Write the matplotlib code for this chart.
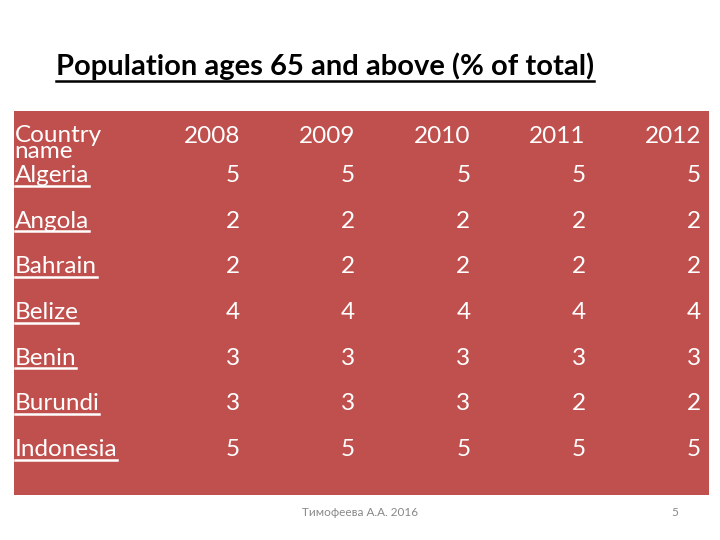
import matplotlib
matplotlib.use("Agg")
import matplotlib.pyplot as plt
from matplotlib.lines import Line2D

plt.rcParams['font.family'] = ['Lato', 'DejaVu Sans']

title = "Population ages 65 and above (% of total)"
header = "Country\nname"
years = ["2008", "2009", "2010", "2011", "2012"]
countries = ["Algeria", "Angola", "Bahrain", "Belize", "Benin", "Burundi", "Indonesia"]
values = [
    [5, 5, 5, 5, 5],
    [2, 2, 2, 2, 2],
    [2, 2, 2, 2, 2],
    [4, 4, 4, 4, 4],
    [3, 3, 3, 3, 3],
    [3, 3, 3, 2, 2],
    [5, 5, 5, 5, 5],
]
footer = "Тимофеева А.А. 2016"
page = "5"

W, H = 720, 540
fig = plt.figure(figsize=(7.2, 5.4), dpi=100)
fig.patch.set_facecolor("white")

# table panel (in pixel fractions)
left, top, right, bottom = 14, 111, 709, 495
ax = fig.add_axes([left / W, 1 - bottom / H, (right - left) / W, (bottom - top) / H])
ax.set_facecolor("#C0504D")
for s in ax.spines.values():
    s.set_visible(False)
ax.set_xticks([])
ax.set_yticks([])
# x: column index (1..5 right edges), y: row index (baselines, 1..7 rows)
ax.set_xlim(-0.96, 5.07)
ax.set_ylim(7.85, -0.554)

fs = 17.5
x0 = -0.955
ax.text(x0, 0.47, header, color="white", fontsize=fs, ha="left", va="baseline",
        linespacing=0.68)
for j, y in enumerate(years):
    ax.text(j + 1, 0.147, y, color="white", fontsize=fs, ha="right", va="baseline")

names = []
for i, c in enumerate(countries):
    t = ax.text(x0, i + 1, c, color="white", fontsize=fs, ha="left", va="baseline")
    names.append((t, i + 1))
    for j, v in enumerate(values[i]):
        ax.text(j + 1, i + 1, str(v), color="white", fontsize=fs, ha="right", va="baseline")

ttl = fig.text(56 / W, 1 - 75 / H, title, fontsize=21, fontweight="bold", ha="left", va="baseline")

fig.text(360 / W, 1 - 512 / H, footer, fontsize=8.5, color="#888888", ha="center", va="center")
fig.text(675 / W, 1 - 512 / H, page, fontsize=8.5, color="#888888", ha="center", va="center")

# underlines, drawn a few pixels below each baseline
fig.canvas.draw()
r = fig.canvas.get_renderer()


def underline(t, ybase, color, lw, off):
    bb = t.get_window_extent(renderer=r)
    y = (ybase - off) / H
    fig.add_artist(Line2D([bb.x0 / W, bb.x1 / W], [y, y], color=color, lw=lw,
                          transform=fig.transFigure))


for t, row in names:
    yb = ax.transData.transform((0, row))[1]
    underline(t, yb, "white", 1.8, 3.5)
underline(ttl, H - 75, "black", 1.8, 6)

fig.savefig("out.png", dpi=100, facecolor="white")
